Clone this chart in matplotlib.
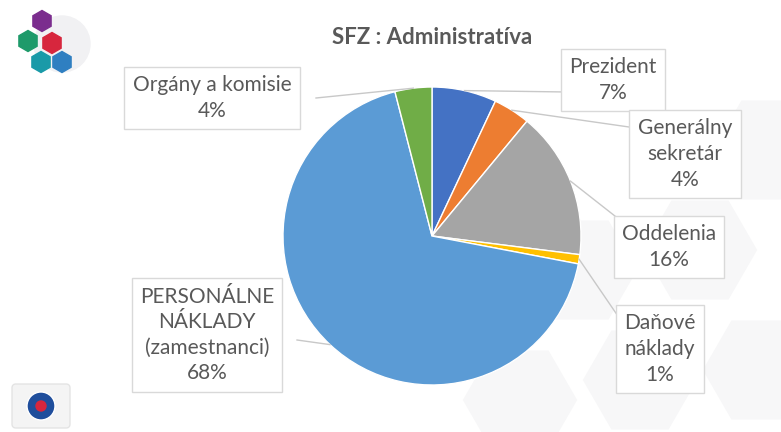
import matplotlib.pyplot as plt
import numpy as np
from matplotlib.patches import RegularPolygon, Circle, FancyBboxPatch

plt.rcParams['font.family'] = ['Lato', 'DejaVu Sans']

# slices, clockwise from the top
labels = ['Prezident', 'Generálny\nsekretár', 'Oddelenia', 'Daňové\nnáklady',
          'PERSONÁLNE\nNÁKLADY\n(zamestnanci)', 'Orgány a komisie']
values = [7, 4, 16, 1, 68, 4]
colors = ['#4472C4', '#ED7D31', '#A5A5A5', '#FFC000', '#5B9BD5', '#70AD47']

# label box centres in pixel coords (x, y from top)
label_pos = [(613, 80), (685, 154), (669, 247), (660, 349), (207, 335), (212, 98)]
# where the leader line touches the box
box_anchor = [(567, 92), (636, 128), (620, 220), (622, 322), (297, 340), (316, 98)]

W, H = 781, 432
fig = plt.figure(figsize=(7.81, 4.32), dpi=100)
ax = fig.add_axes([0, 0, 1, 1])
ax.set_xlim(0, W)
ax.set_ylim(0, H)
ax.axis('off')

# faint hexagon background, lower right (pixel y from top)
for hx, hy in [(580, 270), (700, 250), (640, 380), (760, 370), (770, 150), (520, 400)]:
    ax.add_patch(RegularPolygon((hx, H - hy), 6, radius=62, orientation=np.pi / 6,
                                facecolor='#f7f7f8', edgecolor='white', lw=6, zorder=0))

# logo top-left
ax.add_patch(Circle((62, H - 44), 28, color='#f1f1f3', zorder=1))
for (lx, ly), c in zip([(42, 21), (28, 41), (52, 43), (41, 62), (62, 62)],
                       ['#7b2d8e', '#1e9a6a', '#d7263d', '#1a9aa8', '#2f7fc1']):
    ax.add_patch(RegularPolygon((lx, H - ly), 6, radius=10.5, color=c, zorder=2))

# emblem bottom-left
ax.add_patch(FancyBboxPatch((12, H - 428), 58, 44, boxstyle='round,pad=0,rounding_size=4',
                            facecolor='#f4f4f4', edgecolor='#e4e4e4', lw=1, zorder=1))
ax.add_patch(Circle((41, H - 406), 14, facecolor='#1f4e9c', edgecolor='white', lw=1, zorder=2))
ax.add_patch(Circle((41, H - 406), 5, color='#d7263d', zorder=3))

cx, cy, r = 432, H - 236, 149
wedges, _ = ax.pie(values, colors=colors, startangle=90, counterclock=False,
                   center=(cx, cy), radius=r, frame=True,
                   wedgeprops=dict(edgecolor='white', linewidth=1))
ax.set_xlim(0, W)
ax.set_ylim(0, H)
ax.set_aspect('equal')
ax.axis('off')

for w, v, lab, (lx, ly), (bx, by) in zip(wedges, values, labels, label_pos, box_anchor):
    ang = np.deg2rad((w.theta1 + w.theta2) / 2)
    px, py = cx + r * np.cos(ang), cy + r * np.sin(ang)
    ax.plot([px, bx], [py, H - by], color='#c8c8c8', lw=1, zorder=3)
    ax.text(lx, H - ly, f'{lab}\n{v}%', ha='center', va='center', fontsize=15,
            color='#595959', linespacing=1.35, zorder=5,
            bbox=dict(boxstyle='square,pad=0.4', facecolor='white',
                      edgecolor='#d9d9d9', lw=1))

ax.text(432, H - 38, 'SFZ : Administratíva', ha='center', va='center',
        fontsize=16, fontweight='bold', color='#595959')

fig.savefig('out.png', dpi=100)
